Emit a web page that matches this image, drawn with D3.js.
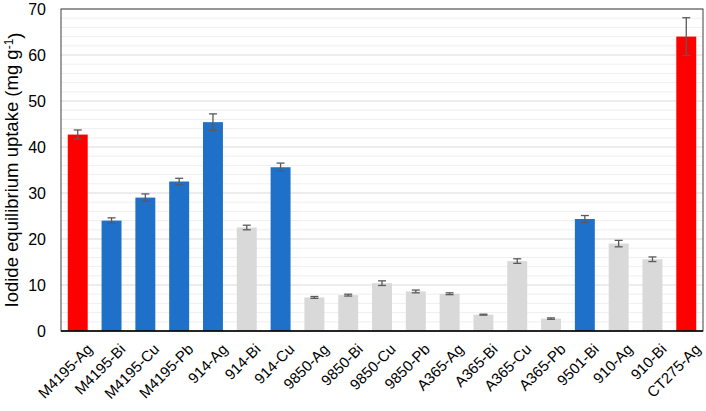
<!DOCTYPE html>
<html><head><meta charset="utf-8">
<script src="https://cdn.jsdelivr.net/npm/d3@7"></script>
<style>body{margin:0;background:#fff;} #wrap{position:relative;width:706px;height:411px;} svg{position:absolute;left:0;top:0;} text{font-family:"Liberation Sans",Arial,sans-serif;}
.xl{position:absolute;font-family:"Liberation Sans",Arial,sans-serif;font-size:15px;color:#000;white-space:nowrap;line-height:15px;transform-origin:100% 0;transform:rotate(-45deg);}</style>
</head><body><div id="wrap"><svg id="c" width="706" height="411"></svg></div>
<script>
const categories = ["M4195-Ag","M4195-Bi","M4195-Cu","M4195-Pb","914-Ag","914-Bi","914-Cu","9850-Ag","9850-Bi","9850-Cu","9850-Pb","A365-Ag","A365-Bi","A365-Cu","A365-Pb","9501-Bi","910-Ag","910-Bi","CT275-Ag"];
const values = [42.7,24.0,29.0,32.5,45.4,22.5,35.6,7.3,7.8,10.4,8.6,8.1,3.55,15.2,2.7,24.35,19.0,15.6,64.0];
const errors = [1.0,0.6,0.8,0.7,1.8,0.5,0.9,0.2,0.2,0.5,0.3,0.2,0.1,0.5,0.15,0.75,0.7,0.5,4.1];
const groups = ["red","blue","blue","blue","blue","gray","blue","gray","gray","gray","gray","gray","gray","gray","gray","blue","gray","gray","red"];
const yTicks = [0,10,20,30,40,50,60,70];
const yTitle = "Iodide equilibrium uptake (mg g";

const colors = {red:"#FF0000", blue:"#1F70C8", gray:"#D9D9D9"};
const svg = d3.select("#c");
const m = {l:61, r:3, t:9, b:80};
const W = 706, H = 411;
const x = d3.scaleBand().domain(categories).range([m.l, W-m.r]).paddingInner(0.41).paddingOuter(0.2);
const y = d3.scaleLinear().domain([0,70]).range([H-m.b, m.t]);

// grid
const g = svg.append("g");
g.selectAll("line.minor").data(d3.range(0,71,2).filter(v=>v%10!==0)).enter().append("line")
 .attr("x1",m.l).attr("x2",W-m.r).attr("y1",d=>y(d)).attr("y2",d=>y(d))
 .attr("stroke","#EFEFEF").attr("stroke-width",1);
g.selectAll("line.major").data(yTicks).enter().append("line")
 .attr("x1",m.l).attr("x2",W-m.r).attr("y1",d=>y(d)).attr("y2",d=>y(d))
 .attr("stroke","#D9D9D9").attr("stroke-width",1);

// bars
svg.selectAll("rect.bar").data(categories).enter().append("rect")
 .attr("x",d=>x(d)).attr("width",x.bandwidth())
 .attr("y",(d,i)=>y(values[i])).attr("height",(d,i)=>y(0)-y(values[i]))
 .attr("fill",(d,i)=>colors[groups[i]]);

// error bars
const eb = svg.append("g").attr("stroke","#5A5A5A").attr("stroke-width",1.3);
categories.forEach((c,i)=>{
  const cx = x(c)+x.bandwidth()/2;
  const y1 = y(values[i]+errors[i]), y2 = y(values[i]-errors[i]);
  eb.append("line").attr("x1",cx).attr("x2",cx).attr("y1",y1).attr("y2",y2);
  eb.append("line").attr("x1",cx-4).attr("x2",cx+4).attr("y1",y1).attr("y2",y1);
  eb.append("line").attr("x1",cx-4).attr("x2",cx+4).attr("y1",y2).attr("y2",y2);
});

// frame
svg.append("rect").attr("x",m.l).attr("y",m.t).attr("width",W-m.r-m.l).attr("height",H-m.b-m.t)
 .attr("fill","none").attr("stroke","#404040").attr("stroke-width",1);
svg.append("line").attr("x1",m.l).attr("x2",W-m.r).attr("y1",y(0)).attr("y2",y(0)).attr("stroke","#000").attr("stroke-width",1.3);

// x labels as HTML with CSS rotation, anchored at top-right
d3.select("#wrap").selectAll("div.xl").data(categories).enter().append("div")
 .attr("class","xl")
 .style("right",d=>(W-(x(d)+x.bandwidth()/2+6))+"px")
 .style("top",(y(0)+10)+"px")
 .text(d=>d);

// y axis labels
const ya = svg.append("g").attr("transform",`translate(${m.l},0)`)
 .call(d3.axisLeft(y).tickValues(yTicks).tickSize(0).tickPadding(15));
ya.select(".domain").remove();
ya.selectAll("text").attr("font-size","16px").attr("fill","#000").attr("font-family","'Liberation Sans',Arial,sans-serif");

// y title
const t = svg.append("text").attr("transform",`translate(18,${(m.t+y(0))/2}) rotate(-90)`)
 .attr("text-anchor","middle").attr("font-size","18.5px").attr("fill","#000");
t.append("tspan").text(yTitle);
t.append("tspan").attr("dy","-0.45em").attr("font-size","12px").text("-1");
t.append("tspan").attr("dy","0.45em").text(")");
</script></body></html>
